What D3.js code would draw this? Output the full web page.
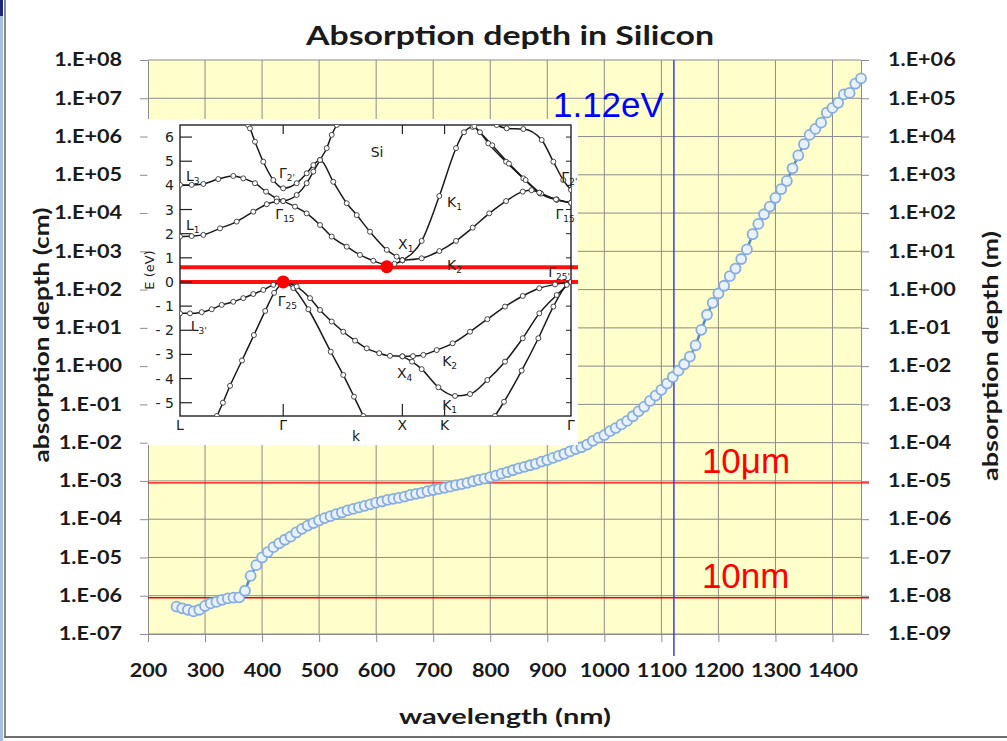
<!DOCTYPE html>
<html>
<head>
<meta charset="utf-8">
<script src="https://cdn.jsdelivr.net/npm/d3@7"></script>
<style>
    body { margin: 0; background: #fff; }
    svg { display: block; }
</style>
</head>
<body>
<div id="chart"></div>
<script>
//Absorption depth of silicon vs wavelength
var wavelengths = [
    250, 260, 270, 280, 290, 300, 310, 320, 330, 340, 350, 360, 370, 380, 390,
    400, 410, 420, 430, 440, 450, 460, 470, 480, 490, 500, 510, 520, 530, 540,
    550, 560, 570, 580, 590, 600, 610, 620, 630, 640, 650, 660, 670, 680, 690,
    700, 710, 720, 730, 740, 750, 760, 770, 780, 790, 800, 810, 820, 830, 840,
    850, 860, 870, 880, 890, 900, 910, 920, 930, 940, 950, 960, 970, 980, 990,
    1000, 1010, 1020, 1030, 1040, 1050, 1060, 1070, 1080, 1090, 1100, 1110, 1120, 1130, 1140,
    1150, 1160, 1170, 1180, 1190, 1200, 1210, 1220, 1230, 1240, 1250, 1260, 1270, 1280, 1290,
    1300, 1310, 1320, 1330, 1340, 1350, 1360, 1370, 1380, 1390, 1400, 1410, 1420, 1430, 1440,
    1450
];
var absorptionDepth = [
    5.2e-7, 4.7e-7, 4.3e-7, 3.9e-7, 4.3e-7, 5.4e-7, 6.3e-7, 6.9e-7, 7.8e-7, 8.5e-7, 8.9e-7, 9.1e-7, 1.35e-6, 3.3e-6, 6.3e-6,
    1.0e-5, 1.38e-5, 1.86e-5, 2.34e-5, 2.9e-5, 3.5e-5, 4.5e-5, 5.6e-5, 6.8e-5, 7.9e-5, 9.3e-5, 1.07e-4, 1.2e-4, 1.35e-4, 1.5e-4,
    1.7e-4, 1.86e-4, 2.04e-4, 2.24e-4, 2.45e-4, 2.7e-4, 2.9e-4, 3.2e-4, 3.4e-4, 3.6e-4, 3.9e-4, 4.3e-4, 4.6e-4, 4.9e-4, 5.4e-4,
    5.8e-4, 6.2e-4, 6.6e-4, 7.1e-4, 7.8e-4, 8.3e-4, 8.9e-4, 9.8e-4, 1.07e-3, 1.15e-3, 1.26e-3, 1.38e-3, 1.55e-3, 1.7e-3, 1.9e-3,
    2.14e-3, 2.34e-3, 2.57e-3, 2.8e-3, 3.2e-3, 3.5e-3, 4.0e-3, 4.5e-3, 5.1e-3, 5.9e-3, 6.8e-3, 7.6e-3, 8.9e-3, 1.12e-2, 1.35e-2,
    1.58e-2, 2.0e-2, 2.4e-2, 3.0e-2, 3.7e-2, 4.9e-2, 6.6e-2, 8.7e-2, 0.123, 0.17, 0.24, 0.35, 0.52, 0.76, 1.12,
    1.78, 3.5, 8.9, 22, 45, 79, 126, 224, 355, 630, 1120, 2800, 5200, 9300, 1.48e4,
    2.5e4, 4.2e4, 6.9e4, 1.48e5, 3.2e5, 6.3e5, 1.1e6, 1.58e6, 2.3e6, 4.2e6, 5.6e6, 7.6e6, 1.26e7, 1.38e7, 2.4e7,
    3.3e7
];

//Axis ticks
var xTickValues = [200, 300, 400, 500, 600, 700, 800, 900, 1000, 1100, 1200, 1300, 1400];
var leftTickValues = [1e-7, 1e-6, 1e-5, 1e-4, 1e-3, 1e-2, 1e-1, 1e0, 1e1, 1e2, 1e3, 1e4, 1e5, 1e6, 1e7, 1e8];
var rightTickValues = [1e-9, 1e-8, 1e-7, 1e-6, 1e-5, 1e-4, 1e-3, 1e-2, 1e-1, 1e0, 1e1, 1e2, 1e3, 1e4, 1e5, 1e6];

//Reference lines
var referenceDepths = [1e-3, 1e-6];
var referenceLabels = ["10\u03bcm", "10nm"];
var bandgapWavelength = 1122;
var bandgapLabel = "1.12eV";

//Inset: silicon band structure, energy (eV) along k path L - Γ - X - K - Γ
var energyTicks = [-5, -4, -3, -2, -1, 0, 1, 2, 3, 4, 5, 6];
var kPoints = [0, 0.866, 1.866, 2.22, 3.281];
var kLabels = ["L", "\u0393", "X", "K", "\u0393"];

var bandL3 = [[0, 4.02], [0.098, 4.02], [0.196, 4.06], [0.321, 4.26], [0.447, 4.39], [0.531, 4.29], [0.629, 4.09], [0.722, 3.74], [0.811, 3.46], [0.866, 3.35], [0.965, 3.12], [1.063, 2.84], [1.175, 2.36], [1.273, 1.88], [1.399, 1.46], [1.51, 1.12], [1.622, 0.88], [1.735, 0.72], [1.80, 0.75], [1.866, 0.9]];
var bandL1 = [[0, 1.88], [0.098, 1.9], [0.196, 1.95], [0.336, 2.22], [0.476, 2.5], [0.615, 2.91], [0.728, 3.22], [0.811, 3.33], [0.866, 3.35], [0.979, 3.6], [1.063, 4.09], [1.119, 4.57], [1.175, 5.05], [1.231, 5.54], [1.273, 6.09], [1.315, 6.5]];
var bandG2 = [[0.571, 6.5], [0.587, 6.36], [0.629, 5.81], [0.699, 4.98], [0.783, 4.22], [0.866, 3.88], [0.979, 4.09], [1.063, 4.5], [1.119, 4.84], [1.175, 5.05], [1.286, 4.15], [1.399, 3.26], [1.483, 2.77], [1.594, 2.08], [1.735, 1.33], [1.818, 1.05], [1.866, 0.9]];
var bandK1 = [[1.866, 0.9], [2.028, 1.7], [2.176, 3.56], [2.316, 5.54], [2.383, 6.2], [2.456, 6.42], [2.517, 6.2], [2.587, 5.74], [2.736, 4.98], [2.881, 4.29], [3.021, 3.67], [3.161, 3.4], [3.281, 3.28]];
var bandK1b = [[2.47, 6.45], [2.62, 5.66], [2.76, 4.9], [2.9, 4.22], [3.03, 3.66], [3.16, 3.42], [3.281, 3.28]];
var bandK2 = [[1.866, 0.9], [2.028, 0.98], [2.176, 1.28], [2.316, 1.7], [2.456, 2.25], [2.595, 2.84], [2.736, 3.35], [2.876, 3.74], [2.95, 3.8], [3.015, 3.7], [3.155, 3.42], [3.281, 3.28]];
var bandG2r = [[2.658, 6.5], [2.741, 6.36], [2.881, 6.33], [3.035, 5.88], [3.133, 4.98], [3.216, 4.22], [3.281, 3.81]];
var bandL3v = [[0, -1.3], [0.084, -1.3], [0.182, -1.25], [0.266, -1.13], [0.35, -0.95], [0.447, -0.82], [0.531, -0.67], [0.615, -0.5], [0.699, -0.33], [0.783, -0.12], [0.866, 0]];
var bandLGv = [[0.31, -5.55], [0.36, -5.0], [0.42, -4.3], [0.52, -3.25], [0.62, -2.2], [0.715, -1.2], [0.79, -0.45], [0.866, 0]];
var bandGXv = [[0.866, 0], [0.951, -0.25], [1.077, -1.13], [1.265, -2.89], [1.37, -3.85], [1.46, -4.75], [1.538, -5.55]];
var bandK2v = [[0.866, 0], [0.979, -0.19], [1.091, -0.67], [1.175, -1.16], [1.273, -1.64], [1.37, -2.06], [1.469, -2.43], [1.567, -2.75], [1.672, -2.95], [1.762, -3.06], [1.866, -3.08], [1.955, -3.07], [2.042, -3.02], [2.154, -2.82], [2.288, -2.54], [2.434, -2.06], [2.579, -1.54], [2.727, -1.02], [2.876, -0.58], [3.015, -0.26], [3.147, -0.1], [3.281, 0]];
var bandK1v = [[1.866, -3.08], [1.947, -3.3], [2.028, -3.61], [2.168, -4.36], [2.308, -4.72], [2.434, -4.64], [2.579, -4.06], [2.727, -3.3], [2.876, -2.33], [3.015, -1.3], [3.161, -0.54], [3.281, 0]];
var bandGGv = [[2.643, -5.55], [2.719, -4.96], [2.867, -3.67], [3.007, -2.33], [3.133, -1.02], [3.245, -0.12], [3.281, 0]];

//Band edges marked in red: conduction band minimum and valence band maximum
var bandEdgeEnergies = [0.61, 0];
var bandEdgePoints = [[1.735, 0.63], [0.866, 0]];


//Configuration
var configuration = {
    width: 1007,
    height: 741,
    left: 148,
    right: 861,
    top: 60,
    bottom: 634
}
Object.freeze(configuration);

var FONT = "Lato, 'Open Sans', sans-serif";
var GRID = "#8c8c8c";

function expLabel(v) {
    //Excel style scientific label, e.g. 1.E+08
    var e = Math.round(Math.log10(v));
    var a = Math.abs(e);
    return "1.E" + (e < 0 ? "-" : "+") + (a < 10 ? "0" : "") + a;
}

function stretchText(selection, factor) {
    //Widen text horizontally to match the stretched look of the original
    selection.each(function() {
        var w = this.getComputedTextLength();
        d3.select(this)
            .attr("textLength", w * factor)
            .attr("lengthAdjust", "spacingAndGlyphs");
    });
}

function styleAxis(g) {
    g.attr("font-family", FONT)
        .attr("font-size", 18)
        .attr("font-weight", "bold");
    g.select(".domain").attr("stroke", GRID);
    g.selectAll(".tick line").attr("stroke", GRID);
    g.selectAll(".tick text").attr("fill", "#1a1a1a");
    stretchText(g.selectAll(".tick text"), 1.2);
}

var c = configuration;

var svg = d3.select("#chart")
    .append("svg")
        .attr("width", c.width)
        .attr("height", c.height)
        .style("background-color", "#fff");

//Slide frame
svg.append("rect").attr("x", 0).attr("y", 0).attr("width", 3).attr("height", c.height).attr("fill", "#a7bee0");
svg.append("rect").attr("x", 0).attr("y", 0).attr("width", 3).attr("height", 16).attr("fill", "#1b2a78");
svg.append("line").attr("x1", 5).attr("x2", 5).attr("y1", 0).attr("y2", 737)
    .attr("stroke", "#8a8a8a").attr("stroke-width", 2);
svg.append("line").attr("x1", 4).attr("x2", c.width).attr("y1", 737).attr("y2", 737)
    .attr("stroke", "#6e6e6e").attr("stroke-width", 2);

//Scales
var x = d3.scaleLinear()
    .domain([200, 1450])
    .range([c.left, c.right]);

var y = d3.scaleLog()
    .domain([1e-7, 1e8])
    .range([c.bottom, c.top]);

var y2 = d3.scaleLog()
    .domain([1e-9, 1e6])
    .range([c.bottom, c.top]);

//Plot area
svg.append("rect")
    .attr("x", c.left)
    .attr("y", c.top)
    .attr("width", c.right - c.left)
    .attr("height", c.bottom - c.top)
    .attr("fill", "#ffffcc");

//Gridlines
svg.append("g")
    .selectAll("line")
    .data(leftTickValues)
    .join("line")
        .attr("x1", c.left)
        .attr("x2", c.right)
        .attr("y1", function(d) { return y(d); })
        .attr("y2", function(d) { return y(d); })
        .attr("stroke", GRID);

svg.append("g")
    .selectAll("line")
    .data(xTickValues.slice(1))
    .join("line")
        .attr("x1", function(d) { return x(d); })
        .attr("x2", function(d) { return x(d); })
        .attr("y1", c.top)
        .attr("y2", c.bottom)
        .attr("stroke", GRID);

//Axes
svg.append("g")
    .attr("transform", "translate(0," + c.bottom + ")")
    .call(d3.axisBottom(x).tickValues(xTickValues).tickSize(8).tickSizeOuter(0).tickPadding(22).tickFormat(d3.format("d")))
    .call(styleAxis);

svg.append("g")
    .attr("transform", "translate(" + c.left + ",0)")
    .call(d3.axisLeft(y).tickValues(leftTickValues).tickSize(8).tickSizeOuter(0).tickPadding(18).tickFormat(expLabel))
    .call(styleAxis);

svg.append("g")
    .attr("transform", "translate(" + c.right + ",0)")
    .call(d3.axisRight(y2).tickValues(rightTickValues).tickSize(8).tickSizeOuter(0).tickPadding(19).tickFormat(expLabel))
    .call(styleAxis);

//Reference depth lines
svg.append("g")
    .selectAll("line")
    .data(referenceDepths)
    .join("line")
        .attr("x1", c.left)
        .attr("x2", c.right + 8)
        .attr("y1", function(d) { return y(d) + 2; })
        .attr("y2", function(d) { return y(d) + 2; })
        .attr("stroke", "#ff0000")
        .attr("stroke-width", 1.3);

svg.append("g")
    .selectAll("text")
    .data(referenceDepths)
    .join("text")
        .attr("x", x(bandgapWavelength) + 28)
        .attr("y", function(d) { return y(d) - 8; })
        .attr("font-family", "'Liberation Sans', Arial, sans-serif")
        .attr("font-size", 35)
        .attr("fill", "#ff0000")
        .text(function(d, i) { return referenceLabels[i]; });

//Band gap line
svg.append("line")
    .attr("x1", x(bandgapWavelength))
    .attr("x2", x(bandgapWavelength))
    .attr("y1", c.top)
    .attr("y2", c.bottom + 22)
    .attr("stroke", "#3a3aff")
    .attr("stroke-width", 1.5);

svg.append("text")
    .attr("x", x(bandgapWavelength) - 10)
    .attr("y", y(1e7) + 19)
    .attr("text-anchor", "end")
    .attr("font-family", "'Liberation Sans', Arial, sans-serif")
    .attr("font-size", 35)
    .attr("fill", "#0000ff")
    .text(bandgapLabel);

//Absorption depth curve
var points = d3.zip(wavelengths, absorptionDepth);

svg.append("path")
    .datum(points)
    .attr("d", d3.line()
        .x(function(d) { return x(d[0]); })
        .y(function(d) { return y(d[1]); }))
    .attr("fill", "none")
    .attr("stroke", "#4f86cc")
    .attr("stroke-width", 2.5);

svg.append("g")
    .selectAll("circle")
    .data(points)
    .join("circle")
        .attr("cx", function(d) { return x(d[0]); })
        .attr("cy", function(d) { return y(d[1]); })
        .attr("r", 5)
        .attr("fill", "#e9f1fb")
        .attr("stroke", "#86ade0")
        .attr("stroke-width", 1.8);

//Titles
svg.append("text")
    .attr("x", 510)
    .attr("y", 45)
    .attr("text-anchor", "middle")
    .attr("font-family", FONT)
    .attr("font-size", 27)
    .attr("font-weight", "bold")
    .attr("fill", "#1a1a1a")
    .attr("textLength", 408)
    .attr("lengthAdjust", "spacingAndGlyphs")
    .text("Absorption depth in Silicon");

svg.append("text")
    .attr("x", 505)
    .attr("y", 724)
    .attr("text-anchor", "middle")
    .attr("font-family", FONT)
    .attr("font-size", 21)
    .attr("font-weight", "bold")
    .attr("fill", "#1a1a1a")
    .attr("textLength", 212)
    .attr("lengthAdjust", "spacingAndGlyphs")
    .text("wavelength (nm)");

svg.append("text")
    .attr("transform", "translate(49,335) rotate(-90)")
    .attr("text-anchor", "middle")
    .attr("font-family", FONT)
    .attr("font-size", 21)
    .attr("font-weight", "bold")
    .attr("fill", "#1a1a1a")
    .attr("textLength", 255)
    .attr("lengthAdjust", "spacingAndGlyphs")
    .text("absorption depth (cm)");

svg.append("text")
    .attr("transform", "translate(998,356) rotate(-90)")
    .attr("text-anchor", "middle")
    .attr("font-family", FONT)
    .attr("font-size", 21)
    .attr("font-weight", "bold")
    .attr("fill", "#1a1a1a")
    .attr("textLength", 250)
    .attr("lengthAdjust", "spacingAndGlyphs")
    .text("absorption depth (m)");


//Inset band structure
var inset = { x0: 147.5, y0: 119, x1: 578, y1: 445, left: 180, right: 571, top: 125, bottom: 416 };

var kx = d3.scaleLinear().domain([0, 3.281]).range([inset.left, inset.right]);
var eY = d3.scaleLinear().domain([-5.55, 6.5]).range([inset.bottom, inset.top]);

var g = svg.append("g")
    .attr("font-family", "'DejaVu Sans', sans-serif")
    .attr("fill", "#222");

g.append("rect")
    .attr("x", inset.x0)
    .attr("y", inset.y0)
    .attr("width", inset.x1 - inset.x0)
    .attr("height", inset.y1 - inset.y0)
    .attr("fill", "#fff");

g.append("clipPath")
    .attr("id", "bandclip")
    .append("rect")
        .attr("x", inset.left)
        .attr("y", inset.top)
        .attr("width", inset.right - inset.left)
        .attr("height", inset.bottom - inset.top);

//Band edge lines (drawn below the bands)
g.append("g")
    .selectAll("line")
    .data(bandEdgeEnergies)
    .join("line")
        .attr("x1", inset.left)
        .attr("x2", inset.x1)
        .attr("y1", function(d) { return eY(d); })
        .attr("y2", function(d) { return eY(d); })
        .attr("stroke", "#ff1010")
        .attr("stroke-width", 4);

//Frame and ticks
g.append("rect")
    .attr("x", inset.left)
    .attr("y", inset.top)
    .attr("width", inset.right - inset.left)
    .attr("height", inset.bottom - inset.top)
    .attr("fill", "none")
    .attr("stroke", "#222")
    .attr("stroke-width", 1.4);

g.append("g")
    .selectAll("line")
    .data(energyTicks)
    .join("line")
        .attr("x1", inset.left)
        .attr("x2", inset.left + 12)
        .attr("y1", function(d) { return eY(d); })
        .attr("y2", function(d) { return eY(d); })
        .attr("stroke", "#222")
        .attr("stroke-width", 1.2);

g.append("g")
    .selectAll("line")
    .data(energyTicks)
    .join("line")
        .attr("x1", inset.right - 5)
        .attr("x2", inset.right)
        .attr("y1", function(d) { return eY(d); })
        .attr("y2", function(d) { return eY(d); })
        .attr("stroke", "#222");

g.append("g")
    .selectAll("text")
    .data(energyTicks)
    .join("text")
        .attr("x", inset.left - 6)
        .attr("y", function(d) { return eY(d) + 5; })
        .attr("text-anchor", "end")
        .attr("font-size", 14)
        .text(function(d) { return d < 0 ? "- " + (-d) : d; });

var innerK = kPoints.slice(1, 4);
g.append("g")
    .selectAll("line")
    .data(innerK.concat(innerK))
    .join("line")
        .attr("x1", function(d) { return kx(d); })
        .attr("x2", function(d) { return kx(d); })
        .attr("y1", function(d, i) { return i < 3 ? inset.bottom : inset.top; })
        .attr("y2", function(d, i) { return i < 3 ? inset.bottom - 12 : inset.top + 9; })
        .attr("stroke", "#222")
        .attr("stroke-width", 1.2);

g.append("g")
    .selectAll("text")
    .data(kPoints)
    .join("text")
        .attr("x", function(d) { return kx(d); })
        .attr("y", inset.bottom + 14)
        .attr("text-anchor", "middle")
        .attr("font-size", 14)
        .text(function(d, i) { return kLabels[i]; });

g.append("text")
    .attr("x", 356)
    .attr("y", 441)
    .attr("text-anchor", "middle")
    .attr("font-size", 14)
    .text("k");

g.append("text")
    .attr("transform", "translate(154,270) rotate(-90)")
    .attr("text-anchor", "middle")
    .attr("font-size", 13)
    .text("E (eV)");

//Bands
var bands = [bandL3, bandL1, bandG2, bandK1, bandK1b, bandK2, bandG2r, bandL3v, bandLGv, bandGXv, bandK2v, bandK1v, bandGGv];

var bandLine = d3.line()
    .x(function(d) { return kx(d[0]); })
    .y(function(d) { return eY(d[1]); })
    .curve(d3.curveMonotoneX);

var bandGroup = g.append("g").attr("clip-path", "url(#bandclip)");

bandGroup.selectAll("path")
    .data(bands)
    .join("path")
        .attr("d", bandLine)
        .attr("fill", "none")
        .attr("stroke", "#1a1a1a")
        .attr("stroke-width", 1.5);

bandGroup.append("g")
    .selectAll("circle")
    .data(d3.merge(bands))
    .join("circle")
        .attr("cx", function(d) { return kx(d[0]); })
        .attr("cy", function(d) { return eY(d[1]); })
        .attr("r", 2.5)
        .attr("fill", "#fff")
        .attr("stroke", "#333")
        .attr("stroke-width", 0.9);

//Band edge dots
g.append("g")
    .selectAll("circle")
    .data(bandEdgePoints)
    .join("circle")
        .attr("cx", function(d) { return kx(d[0]); })
        .attr("cy", function(d) { return eY(d[1]); })
        .attr("r", 6.5)
        .attr("fill", "#ff0000");

//Symmetry point labels
function bandLabel(k, e, main, sub) {
    var t = g.append("text")
        .attr("x", kx(k))
        .attr("y", eY(e))
        .attr("font-size", 14)
        .text(main);
    if (sub) {
        t.append("tspan")
            .attr("dy", 3)
            .attr("font-size", 9)
            .text(sub);
    }
}

bandLabel(1.6, 5.18, "Si");
bandLabel(0.05, 4.2, "L", "3");
bandLabel(0.83, 4.3, "\u0393", "2'");
bandLabel(0.8, 2.62, "\u0393", "15");
bandLabel(0.05, 2.15, "L", "1");
bandLabel(1.83, 1.37, "X", "1");
bandLabel(2.24, 3.11, "K", "1");
bandLabel(2.24, 0.5, "K", "2");
bandLabel(3.2, 4.12, "\u0393", "2'");
bandLabel(3.15, 2.6, "\u0393", "15");
bandLabel(3.09, 0.22, "\u0393", "25'");
bandLabel(0.82, -0.98, "\u0393", "25");
bandLabel(0.09, -2.03, "L", "3'");
bandLabel(1.82, -3.98, "X", "4");
bandLabel(2.2, -3.48, "K", "2");
bandLabel(2.2, -5.3, "K", "1");
</script>
</body>
</html>
